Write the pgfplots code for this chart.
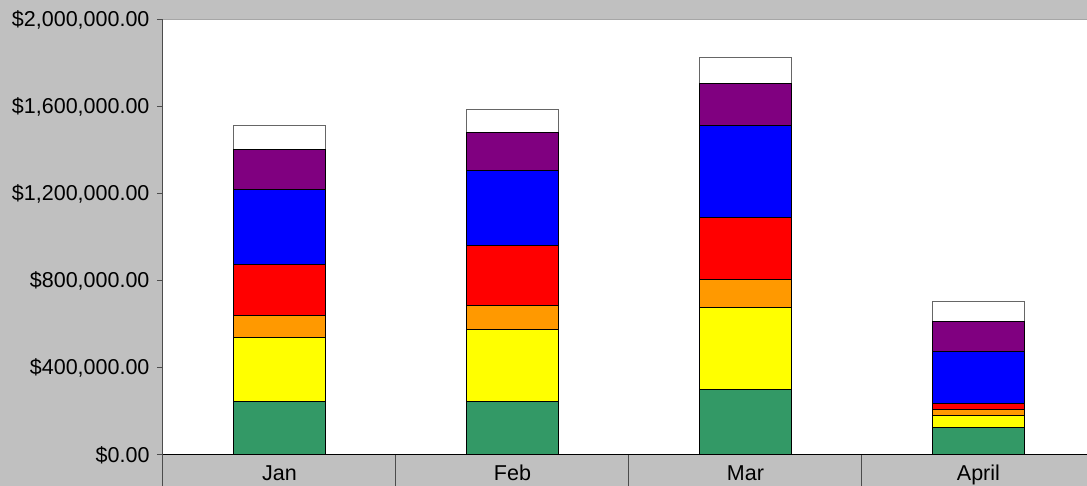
\documentclass[border=0pt]{standalone}
\usepackage{fontspec}
\setmainfont{Liberation Sans}
\usepackage{pgfplots}
\usepackage{pgfplotstable}
\pgfplotsset{compat=1.18}
\definecolor{bg}{HTML}{C0C0C0}
\definecolor{cgreen}{HTML}{339966}
\definecolor{cyellow}{HTML}{FFFF00}
\definecolor{corange}{HTML}{FF9900}
\definecolor{cred}{HTML}{FF0000}
\definecolor{cblue}{HTML}{0000FF}
\definecolor{cpurple}{HTML}{800080}
\pgfplotstableread{
x green yellow orange red blue purple white
0 246000 293000 101000 236000 343000 185000 109000
1 246000 331000 109000 277000 346000 176000 103000
2 301000 379000 127000 283000 424000 193000 120000
3 127000 54000 27000 28000 239000 137000 94000
}\data
\begin{document}
\begin{tikzpicture}[x=1pt,y=1pt]
\fill[bg] (0,0) rectangle (1087,486);
\useasboundingbox (0,0) rectangle (1087,486);
\begin{axis}[
  at={(163pt,31pt)}, anchor=south west,
  scale only axis, width=924pt, height=435pt,
  xmin=-0.5, xmax=3.466, ymin=0, ymax=2000000,
  ybar stacked, bar width=92pt,
  axis background/.style={fill=white},
  axis x line*=bottom, axis y line*=left,
  x axis line style={black, line width=1pt},
  y axis line style={black!70, line width=1pt},
  tick align=outside,
  major tick length=6pt, minor tick length=31pt,
  xtick={0,1,2,3}, xticklabels={Jan,Feb,Mar,April},
  minor xtick={-0.5,0.5,1.5,2.5},
  major x tick style={draw=none},
  minor x tick style={black!70, line width=1pt},
  ytick={0,400000,800000,1200000,1600000,2000000},
  yticklabels={{\$0.00},{\$400,000.00},{\$800,000.00},{\$1,200,000.00},{\$1,600,000.00},{\$2,000,000.00}},
  scaled y ticks=false,
  y tick style={black!70, line width=1pt},
  ticklabel style={font=\fontsize{21.5}{25}\selectfont},
  yticklabel style={xshift=-4pt},
  xticklabel style={anchor=base, yshift=-20pt},
  every axis plot/.append style={draw=black, line width=1pt},
]
\addplot[fill=cgreen] table[x=x,y=green]{\data};
\addplot[fill=cyellow] table[x=x,y=yellow]{\data};
\addplot[fill=corange] table[x=x,y=orange]{\data};
\addplot[fill=cred] table[x=x,y=red]{\data};
\addplot[fill=cblue] table[x=x,y=blue]{\data};
\addplot[fill=cpurple] table[x=x,y=purple]{\data};
\addplot[fill=white, draw=black!60] table[x=x,y=white]{\data};
\end{axis}
\draw[black!35, line width=1pt] (163,466) -- (1087,466);
\end{tikzpicture}
\end{document}
